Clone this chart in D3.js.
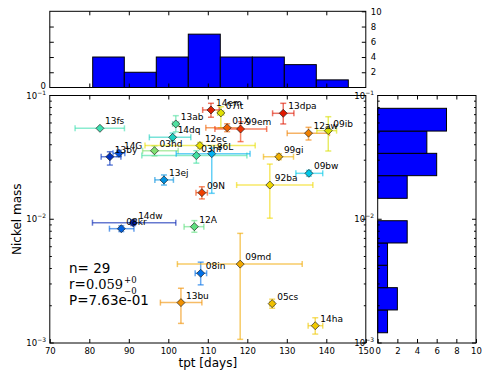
<!DOCTYPE html>
<html>
<head>
<meta charset="utf-8">
<script src="https://cdnjs.cloudflare.com/ajax/libs/d3/7.8.5/d3.min.js"></script>
<style>
  body { margin: 0; background: #fff; }
  text { font-family: "DejaVu Sans", sans-serif; }
</style>
</head>
<body>
<svg id="chart" width="491" height="382"></svg>
<script>
// supernova names, tpt (days) with error range, nickel mass with error range
var names  = ["13fs","13ab","14dq","03hd","12ec","03hf","86L","13by","14G","13ej","09N","14em","07it","01X","99em",
              "13dpa","12aw","09ib","99gi","09bw","92ba","14dw","08kr","12A","08in","13bu","09md","05cs","14ha"];
var tpt    = [82.7,101.9,101.1,96.5,108.0,107.1,111.0,85.2,87.5,98.9,108.5,110.8,113.3,114.9,118.3,
              129.1,135.5,140.5,128.0,135.6,125.7,91.1,88.1,106.6,108.2,103.2,118.2,126.3,137.2];
var tptLo  = [76.4,101.1,95.2,93.5,94.1,93.3,102.0,83.0,86.0,96.6,107.0,108.7,112.5,109.5,111.8,
              126.4,130.1,137.6,124.1,132.3,117.3,80.8,85.1,104.0,106.8,98.0,102.3,125.7,135.4];
var tptHi  = [88.9,102.6,105.7,102.5,122.0,119.9,120.7,88.0,89.0,101.3,109.9,112.9,114.0,118.2,124.9,
              131.8,140.8,142.6,131.7,139.1,136.6,101.9,91.3,109.0,109.7,108.5,133.9,126.8,139.1];
var ni     = [0.0543,0.0589,0.0459,0.0358,0.0394,0.0327,0.0339,0.0320,0.0341,0.0208,0.0164,0.0764,0.0723,0.0549,0.0536,
              0.0718,0.0496,0.0520,0.0320,0.0235,0.0189,0.00938,0.00839,0.00871,0.00366,0.00212,0.00434,0.00208,0.00138];
var niLo   = [0.0543,0.0509,0.0429,0.0325,0.0373,0.0284,0.0162,0.0274,0.0322,0.0189,0.0146,0.0667,0.0549,0.0510,0.0424,
              0.0589,0.0437,0.0356,0.0303,0.0223,0.0102,0.00890,0.00795,0.00785,0.00295,0.00144,0.00107,0.00191,0.00118];
var niHi   = [0.0543,0.0687,0.0497,0.0391,0.0417,0.0358,0.0377,0.0351,0.0361,0.0228,0.0183,0.0865,0.0812,0.0591,0.0614,
              0.0865,0.0553,0.0674,0.0338,0.0248,0.0279,0.00990,0.00885,0.00975,0.00450,0.00277,0.00769,0.00226,0.00160];
var colors = ["#3ee0b0","#50e0a0","#20d0c0","#80e070","#e8e000","#40e0a0","#00b0f0","#0030c0","#0050e0","#0090e0",
              "#f04000","#e02000","#e0e000","#f06000","#f03000","#e01800","#f08000","#d8e000","#f0b000","#00c8e8",
              "#f0d800","#0020b0","#0060e0","#60e080","#0070e8","#f09000","#f0a800","#f0c000","#f0c800"];

// top histogram (tpt)
var tptEdges  = [80.86,88.86,96.96,105.06,113.16,121.27,129.37,137.47,145.57];
var tptCounts = [4,2,4,7,4,4,3,1];
// right histogram (nickel mass)
var niEdges  = [0.00121,0.00185,0.0028,0.00425,0.00643,0.00973,0.01476,0.0225,0.0341,0.0516,0.0788];
var niCounts = [1,2,1,1,3,0,3,6,5,7];

var xTicks = [70,80,90,100,110,120,130,140,150];
var countTicks = [0,2,4,6,8,10];
var decades = [1e-3,1e-2,1e-1];
var decadeLabels = ["\u22123","\u22122","\u22121"];
var statN = "n= 29", statR = "0.059", statP = "P=7.63e-01";

var svg = d3.select("#chart");

var x = d3.scaleLinear().domain([70,150]).range([49.8,365.8]);
var y = d3.scaleLog().domain([1e-3,1e-1]).range([343,95.5]);
var yTop = d3.scaleLinear().domain([0,10]).range([87.5,11.3]);
var xRight = d3.scaleLinear().domain([0,10]).range([377.7,476]);

var minorVals = [];
[1e-3,1e-2].forEach(function (d) {
    for (var k = 2; k <= 9; k++) minorVals.push(d * k);
});

function logTicks(g, xs, dirs) {
    // dirs: +1 points right, -1 points left
    xs.forEach(function (xx, i) {
        g.selectAll(null).data(decades).enter().append("line")
            .attr("x1", xx).attr("x2", xx + dirs[i] * 4)
            .attr("y1", function (d) { return y(d); }).attr("y2", function (d) { return y(d); })
            .attr("stroke", "#000");
        g.selectAll(null).data(minorVals).enter().append("line")
            .attr("x1", xx).attr("x2", xx + dirs[i] * 2)
            .attr("y1", function (d) { return y(d); }).attr("y2", function (d) { return y(d); })
            .attr("stroke", "#000");
    });
}

function decadeText(g, xx, anchor) {
    var t = g.selectAll(null).data(decades).enter().append("text")
        .attr("x", xx).attr("y", function (d) { return y(d) + 3; })
        .attr("text-anchor", anchor)
        .style("font-size", "8.5px");
    t.append("tspan").text("10");
    t.append("tspan").attr("dy", -4).style("font-size", "6px")
        .text(function (d, i) { return decadeLabels[i]; });
}

// ---------- main scatter ----------
var main = svg.append("g");

var errs = main.append("g").selectAll("g")
    .data(names).enter().append("g")
    .attr("stroke", function (d, i) { return colors[i]; })
    .attr("stroke-opacity", 0.6)
    .attr("stroke-width", 1.5);

errs.append("line")
    .attr("x1", function (d, i) { return x(tptLo[i]); })
    .attr("x2", function (d, i) { return x(tptHi[i]); })
    .attr("y1", function (d, i) { return y(ni[i]); })
    .attr("y2", function (d, i) { return y(ni[i]); });
errs.selectAll(".xcap")
    .data(function (d) { var i = names.indexOf(d); return [[tptLo[i], ni[i]], [tptHi[i], ni[i]]]; })
    .enter().append("line")
    .attr("x1", function (d) { return x(d[0]); }).attr("x2", function (d) { return x(d[0]); })
    .attr("y1", function (d) { return y(d[1]) - 3; }).attr("y2", function (d) { return y(d[1]) + 3; });
errs.append("line")
    .attr("x1", function (d, i) { return x(tpt[i]); })
    .attr("x2", function (d, i) { return x(tpt[i]); })
    .attr("y1", function (d, i) { return y(niLo[i]); })
    .attr("y2", function (d, i) { return y(niHi[i]); });
errs.selectAll(".ycap")
    .data(function (d) {
        var i = names.indexOf(d);
        return niLo[i] === niHi[i] ? [] : [[tpt[i], niLo[i]], [tpt[i], niHi[i]]];
    })
    .enter().append("line")
    .attr("x1", function (d) { return x(d[0]) - 3; }).attr("x2", function (d) { return x(d[0]) + 3; })
    .attr("y1", function (d) { return y(d[1]); }).attr("y2", function (d) { return y(d[1]); });

main.append("g").selectAll("path")
    .data(names).enter().append("path")
    .attr("d", function (d, i) {
        var cx = x(tpt[i]), cy = y(ni[i]), r = 4;
        return "M" + cx + "," + (cy - r) + "L" + (cx + r) + "," + cy +
               "L" + cx + "," + (cy + r) + "L" + (cx - r) + "," + cy + "Z";
    })
    .attr("fill", function (d, i) { return colors[i]; })
    .attr("stroke", "#222")
    .attr("stroke-width", 0.7);

main.append("g").selectAll("text")
    .data(names).enter().append("text")
    .attr("x", function (d, i) { return x(tpt[i]) + 5; })
    .attr("y", function (d, i) { return y(ni[i]) - 4; })
    .style("font-size", "9px")
    .text(function (d) { return d; });

main.append("rect")
    .attr("x", 49.8).attr("y", 95.5).attr("width", 316).attr("height", 247.5)
    .attr("fill", "none").attr("stroke", "#000");

main.append("g").attr("transform", "translate(0,343)")
    .call(d3.axisBottom(x).tickValues(xTicks).tickSizeInner(-4).tickSizeOuter(0).tickPadding(5))
    .call(function (g) { g.select(".domain").remove(); })
    .call(function (g) { g.selectAll("text").style("font-size", "8.5px").style("font-family", "DejaVu Sans"); });
main.append("g").attr("transform", "translate(0,95.5)")
    .call(d3.axisTop(x).tickValues(xTicks.slice(1, -1)).tickSizeInner(-4).tickSizeOuter(0).tickFormat(""))
    .call(function (g) { g.select(".domain").remove(); });

logTicks(main.append("g"), [49.8, 365.8], [1, -1]);
decadeText(main.append("g"), 46, "end");

main.append("text").attr("x", 207.8).attr("y", 367)
    .attr("text-anchor", "middle").style("font-size", "12px").text("tpt [days]");
main.append("text").attr("transform", "translate(21,219.25) rotate(-90)")
    .attr("text-anchor", "middle").style("font-size", "12px").text("Nickel mass");

// stats
main.append("text").attr("x", 69).attr("y", 272.7).style("font-size", "13.5px").text(statN);
var rText = main.append("text").attr("x", 69).attr("y", 289).style("font-size", "13.5px");
rText.append("tspan").text("r=");
rText.append("tspan").style("font-family", "DejaVu Serif").style("font-size", "13px").text(statR);
var rEnd = 69 + rText.node().getComputedTextLength() + 1;
main.append("text").attr("x", rEnd).attr("y", 282.5).style("font-size", "8.5px")
    .style("font-family", "DejaVu Serif").text("+0");
main.append("text").attr("x", rEnd).attr("y", 294).style("font-size", "8.5px")
    .style("font-family", "DejaVu Serif").text("\u22120");
main.append("text").attr("x", 69).attr("y", 305.3).style("font-size", "13.5px").text(statP);

// ---------- top histogram ----------
var topG = svg.append("g");
topG.append("g").selectAll("rect")
    .data(tptCounts).enter().append("rect")
    .attr("x", function (d, i) { return x(tptEdges[i]); })
    .attr("width", function (d, i) { return x(tptEdges[i + 1]) - x(tptEdges[i]); })
    .attr("y", function (d) { return yTop(d); })
    .attr("height", function (d) { return yTop(0) - yTop(d); })
    .attr("fill", "#0000ff").attr("stroke", "#000").attr("stroke-width", 1);
topG.append("rect")
    .attr("x", 49.8).attr("y", 11.3).attr("width", 316).attr("height", 76.2)
    .attr("fill", "none").attr("stroke", "#000");
topG.append("g").attr("transform", "translate(0,87.5)")
    .call(d3.axisBottom(x).tickValues(xTicks.slice(1, -1)).tickSizeInner(-4).tickSizeOuter(0).tickFormat(""))
    .call(function (g) { g.select(".domain").remove(); });
topG.append("g").attr("transform", "translate(0,11.3)")
    .call(d3.axisTop(x).tickValues(xTicks.slice(1, -1)).tickSizeInner(-4).tickSizeOuter(0).tickFormat(""))
    .call(function (g) { g.select(".domain").remove(); });
topG.append("g").attr("transform", "translate(49.8,0)")
    .call(d3.axisLeft(yTop).tickValues([2,4,6,8]).tickSizeInner(-4).tickSizeOuter(0).tickFormat(""))
    .call(function (g) { g.select(".domain").remove(); });
topG.append("g").attr("transform", "translate(365.8,0)")
    .call(d3.axisRight(yTop).tickValues(countTicks.slice(1)).tickSizeInner(-4).tickSizeOuter(0).tickPadding(5))
    .call(function (g) { g.select(".domain").remove(); })
    .call(function (g) { g.selectAll("text").style("font-size", "8.5px").style("font-family", "DejaVu Sans"); });
topG.append("text").attr("x", 46).attr("y", 89).attr("text-anchor", "end")
    .style("font-size", "8.5px").text(countTicks[0]);

// ---------- right histogram ----------
var rightG = svg.append("g");
rightG.append("g").selectAll("rect")
    .data(niCounts).enter().append("rect")
    .attr("x", xRight(0))
    .attr("y", function (d, i) { return y(niEdges[i + 1]); })
    .attr("height", function (d, i) { return y(niEdges[i]) - y(niEdges[i + 1]); })
    .attr("width", function (d) { return xRight(d) - xRight(0); })
    .attr("fill", "#0000ff").attr("stroke", "#000").attr("stroke-width", 1)
    .attr("display", function (d) { return d === 0 ? "none" : null; });
rightG.append("rect")
    .attr("x", 377.7).attr("y", 95.5).attr("width", 98.3).attr("height", 247.5)
    .attr("fill", "none").attr("stroke", "#000");
rightG.append("g").attr("transform", "translate(0,343)")
    .call(d3.axisBottom(xRight).tickValues(countTicks).tickSizeInner(-4).tickSizeOuter(0).tickPadding(5))
    .call(function (g) { g.select(".domain").remove(); })
    .call(function (g) { g.selectAll("text").style("font-size", "8.5px").style("font-family", "DejaVu Sans"); });
rightG.append("g").attr("transform", "translate(0,95.5)")
    .call(d3.axisTop(xRight).tickValues([2,4,6,8]).tickSizeInner(-4).tickSizeOuter(0).tickFormat(""))
    .call(function (g) { g.select(".domain").remove(); });
logTicks(rightG.append("g"), [377.7, 476], [1, -1]);
decadeText(rightG.append("g"), 374, "end");
</script>
</body>
</html>
